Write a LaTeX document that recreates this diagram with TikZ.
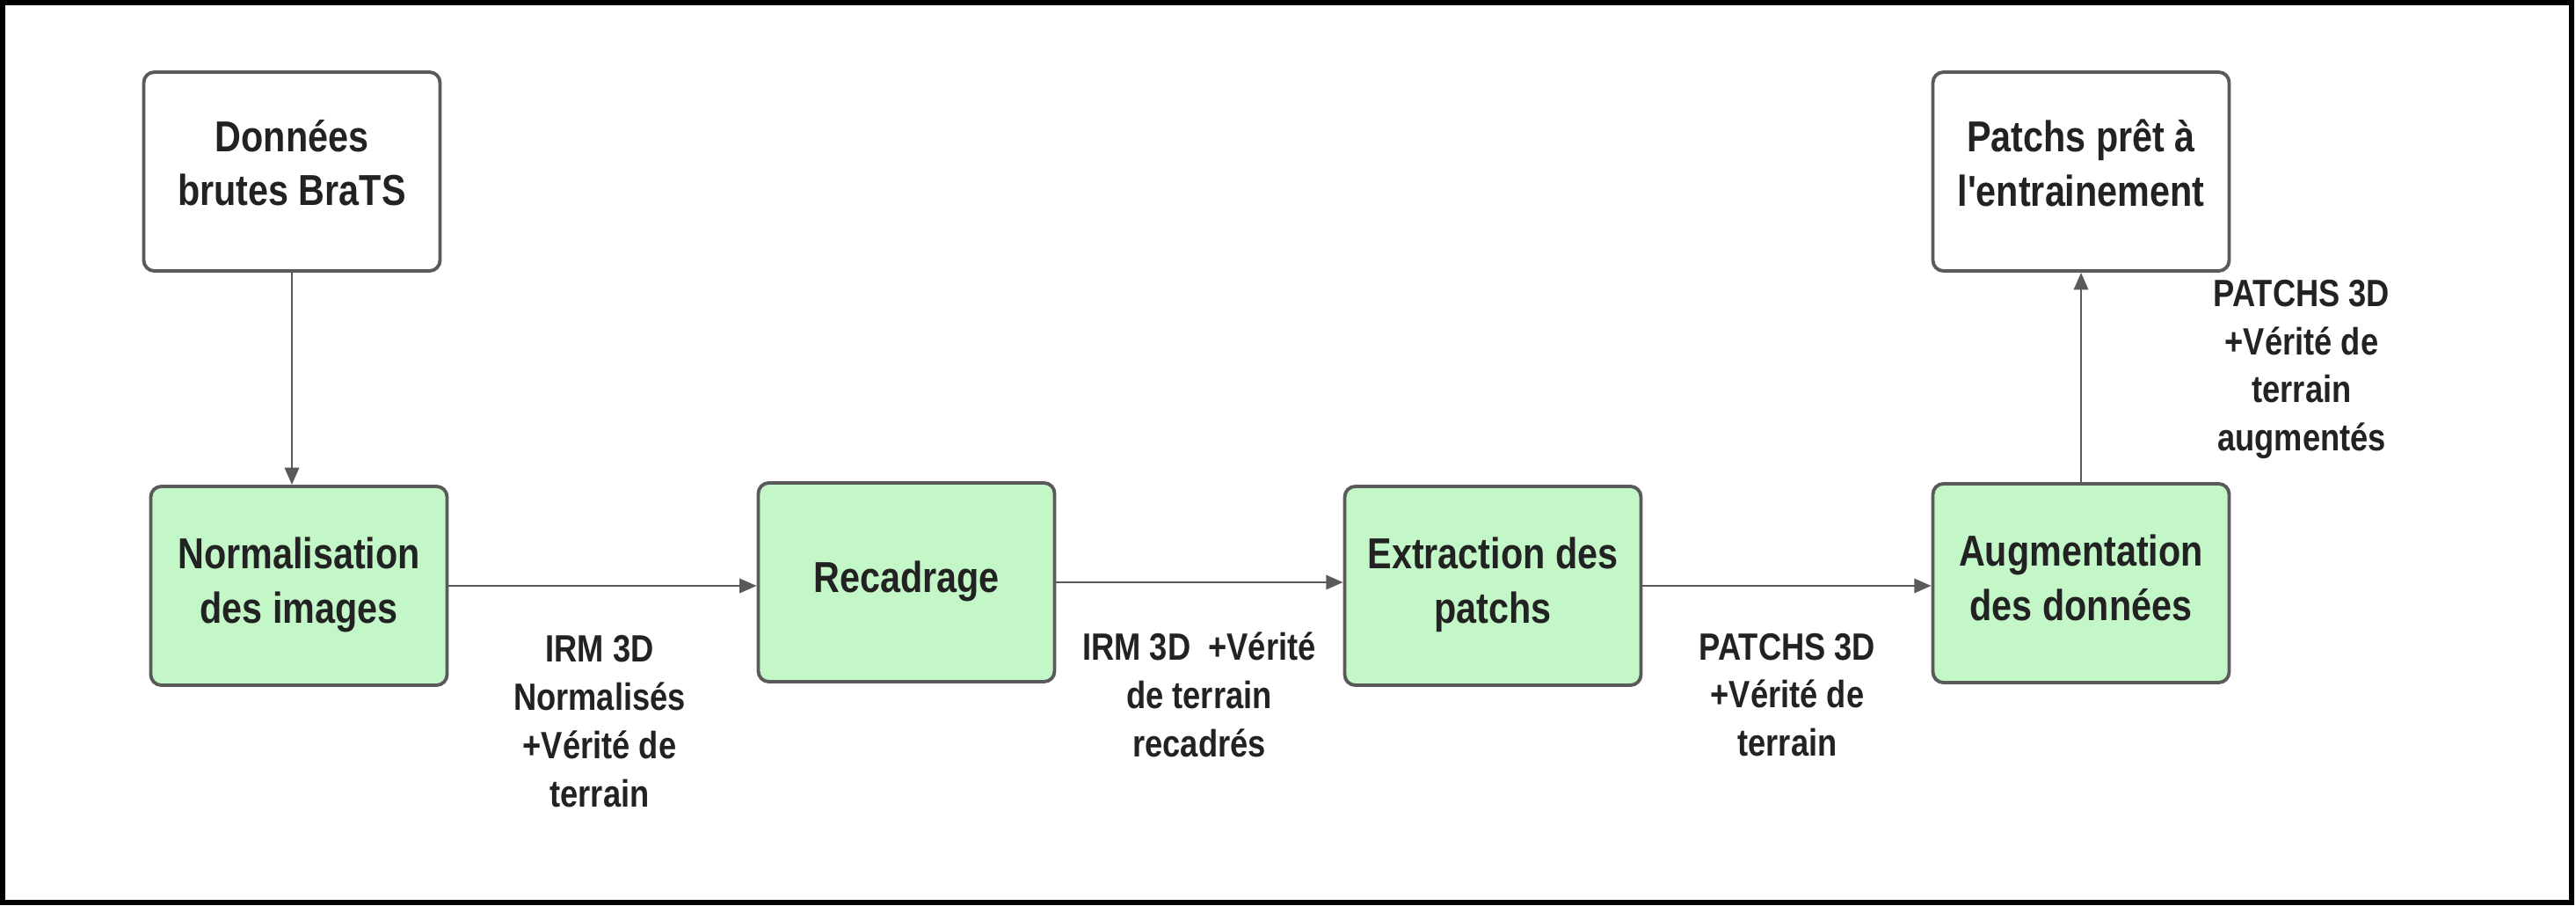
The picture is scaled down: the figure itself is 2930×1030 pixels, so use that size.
\documentclass[tikz,border=0pt]{standalone}
\usepackage{fontspec}
\setmainfont{Liberation Sans}[FakeStretch=0.84, Ligatures=TeXOff]
\usetikzlibrary{arrows.meta}
\definecolor{boxgreen}{RGB}{195,247,200}
\definecolor{linegray}{RGB}{90,90,90}
\definecolor{txt}{RGB}{34,34,34}
\begin{document}
\begin{tikzpicture}[x=0.1mm,y=-0.1mm,
  box/.style={draw=linegray, line width=1.1pt, rounded corners=1.2mm,
    minimum width=33.7mm, minimum height=22.6mm, align=center,
    font=\fontsize{14}{17.6}\selectfont\bfseries, text=txt, inner sep=0pt},
  greenbox/.style={box, fill=boxgreen, text depth=1.3mm},
  whitebox/.style={box, fill=white, text depth=2mm},
  lbl/.style={align=center, font=\fontsize{12.3}{15.6}\selectfont\bfseries,
    text=txt, inner sep=0pt},
  conn/.style={draw=linegray, line width=0.8pt,
    -{Triangle[length=5.5pt,width=4.6pt]}}
]
\useasboundingbox (0,0) rectangle (2930,1030);
\fill[white] (0,0) rectangle (2930,1030);
\draw[line width=0.6mm, black] (3,3) rectangle (2925,1026);

\node[whitebox] (don) at (332,195) {Données\\brutes BraTS};
\node[greenbox] (norm) at (340,666) {Normalisation\\des images};
\node[greenbox] (rec) at (1031,662) {Recadrage};
\node[greenbox] (ext) at (1698,666) {Extraction des\\patchs};
\node[greenbox] (aug) at (2367,663) {Augmentation\\des données};
\node[whitebox] (pat) at (2367,195) {Patchs prêt à\\l'entrainement};

\draw[conn] (don.south) -- (don.south |- norm.north);
\draw[conn] (norm.east) -- (norm.east -| rec.west);
\draw[conn] (rec.east) -- (rec.east -| ext.west);
\draw[conn] (ext.east) -- (ext.east -| aug.west);
\draw[conn] (aug.north) -- (pat.south);

\node[lbl] (l1) at (682,820) {IRM 3D\\Normalisés\\+Vérité de\\terrain};
\node[lbl] (l2) at (1364,790) {IRM 3D~ +Vérité\\de terrain\\recadrés};
\node[lbl] (l3) at (2033,790) {PATCHS 3D\\+Vérité de\\terrain};
\node[lbl] (l4) at (2618,420) {PATCHS 3D\\+Vérité de\\terrain\\augmentés};
\end{tikzpicture}
\end{document}
